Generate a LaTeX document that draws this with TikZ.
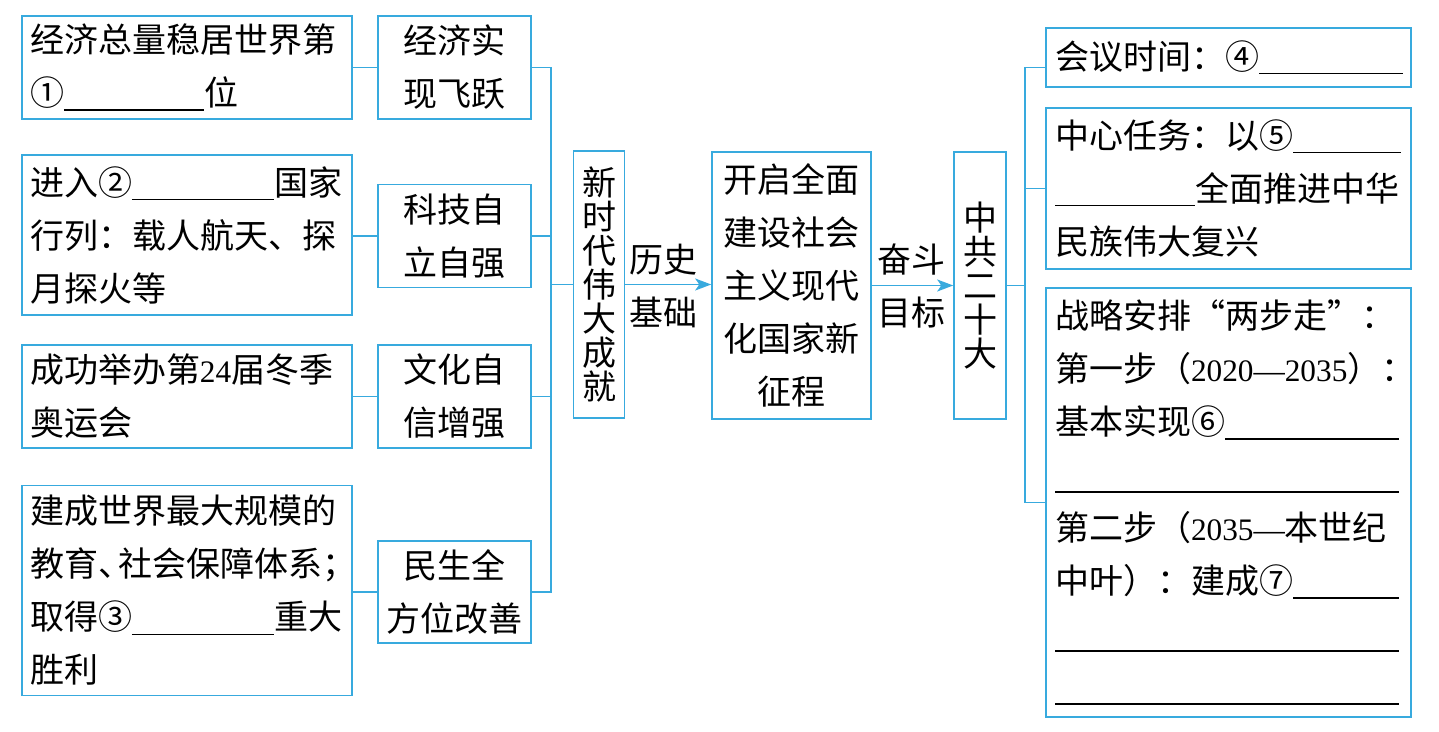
\documentclass[tikz,border=0pt]{standalone}
\usepackage{fontspec}
\setmainfont{Noto Sans CJK SC}
\newfontfamily\dg[Scale=0.92]{Liberation Serif}
\usetikzlibrary{arrows.meta}
\definecolor{lb}{RGB}{56,170,222}
\newcommand\blank[1]{\rule[-2.5pt]{#1}{0.7pt}}
\begin{document}
\begin{tikzpicture}[x=0.5pt,y=-0.5pt,
  font={\fontsize{17}{26.5}\selectfont},
  box/.style={draw=lb,line width=0.8pt,inner sep=0pt},
  lbox/.style={box,inner xsep=4pt,text width=157pt,align=left,minimum height=#1},
  rbox/.style={box,inner xsep=4.5pt,text width=173.5pt,align=left,minimum height=#1},
  cbox/.style={box,align=center,minimum width=76.5pt,minimum height=#1},
  vbox/.style={box,align=center,minimum height=133.5pt,font={\fontsize{17}{17}\selectfont}},
  conn/.style={draw=lb,line width=0.8pt},
  arr/.style={conn,-{Stealth[length=8pt,width=6pt,inset=2pt]}},
  lab/.style={align=center,inner sep=0pt}]
\useasboundingbox (0,0) rectangle (1439,732);
% left detail boxes
\node[lbox=51.5pt] (a1) at (187,67.5) {经济总量稳居世界第\\①\blank{70pt}位};
\node[lbox=80pt] (a2) at (187,235) {进入②\blank{71pt}国家\\行列：载人航天、探\\月探火等};
\node[lbox=51.5pt] (a3) at (187,396.5) {成功举办第{\dg 24}届冬季\\奥运会};
\node[lbox=105pt] (a4) at (187,590.5) {建成世界最大规模的\\教育、\kern-7pt社会保障体系；\\取得③\blank{71pt}重大\\胜利};
% category boxes
\node[cbox=51.5pt] (b1) at (454.5,67.5) {经济实\\现飞跃};
\node[cbox=51.5pt] (b2) at (454.5,236) {科技自\\立自强};
\node[cbox=51.5pt] (b3) at (454.5,396.5) {文化自\\信增强};
\node[cbox=51pt] (b4) at (454.5,592) {民生全\\方位改善};
% center column
\node[vbox,minimum width=25.5pt] (new) at (599,284.5) {新\\时\\代\\伟\\大\\成\\就};
\node[box,align=center,minimum width=79.5pt,minimum height=133.5pt] (mid) at (791.5,285.5) {开启全面\\建设社会\\主义现代\\化国家新\\征程};
\node[vbox,minimum width=26pt] (zg) at (980,285.5) {中\\共\\二\\十\\大};
\node[lab] (ls) at (663,286) {历史\\基础};
\node[lab] (lg) at (911,286) {奋斗\\目标};
% right boxes
\node[rbox=29.5pt] (r1) at (1228.5,57.5) {会议时间：④\blank{72pt}};
\node[rbox=80.5pt] (r2) at (1228.5,188.5) {中心任务：以⑤\blank{54pt}\\\blank{70pt}全面推进中华\\民族伟大复兴};
\node[rbox=214.5pt] (r3) at (1228.5,502.5) {战略安排“两步走”：\\\mbox{第一步（{\dg 2020—2035}）：}\\基本实现⑥\blank{87pt}\\\blank{172pt}\\\mbox{第二步（{\dg 2035—}本世纪}\\中叶）：建成⑦\blank{53pt}\\\blank{172pt}\\\blank{172pt}};
% connectors
\coordinate (tl) at (551,0);
\coordinate (tr) at (1025,0);
\coordinate (r1c) at ([yshift=-5pt]r1.west);
\draw[conn] (a1.east) -- (b1.west);
\draw[conn] (b2.west -| a2.east) -- (b2.west);
\draw[conn] (a3.east) -- (b3.west);
\draw[conn] (b4.west -| a4.east) -- (b4.west);
\draw[conn] (b1.east) -- (b1.east -| tl) -- (b4.east -| tl) -- (b4.east);
\draw[conn] (b2.east) -- (b2.east -| tl);
\draw[conn] (b3.east) -- (b3.east -| tl);
\draw[conn] (new.west -| tl) -- (new.west);
\draw[arr] (new.east) -- (new.east -| mid.west);
\draw[arr] (mid.east) -- (mid.east -| zg.west);
\draw[conn] (zg.east) -- (zg.east -| tr);
\draw[conn] (r1c) -- (r1c -| tr) -- (r3.west -| tr) -- (r3.west);
\draw[conn] (r2.west -| tr) -- (r2.west);
\end{tikzpicture}
\end{document}
